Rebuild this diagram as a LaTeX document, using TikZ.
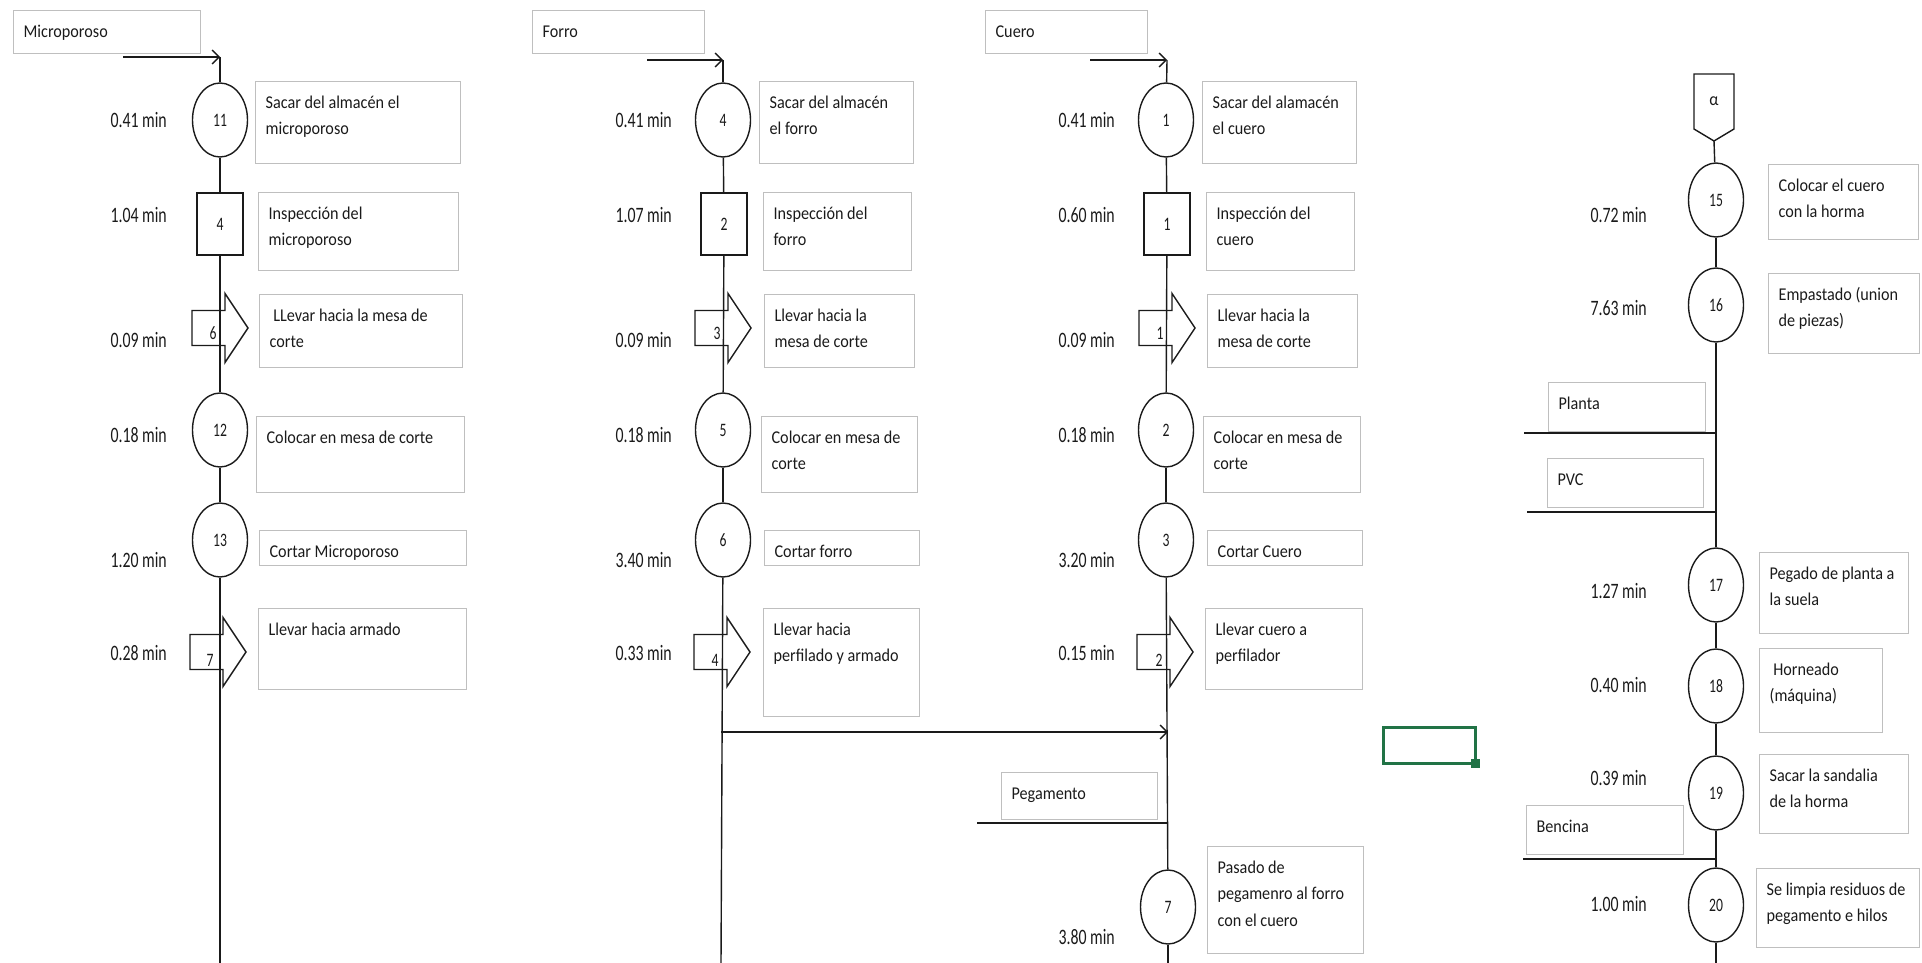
\documentclass[tikz,border=0pt]{standalone}
\usepackage{fontspec}
\setmainfont{Carlito}
\newfontfamily\boxfont[FakeStretch=0.9]{Carlito}
\newfontfamily\numfont[FakeStretch=0.72]{Carlito}
\usetikzlibrary{arrows.meta,shapes.geometric}
\definecolor{ink}{HTML}{1A1A1A}
\definecolor{boxgray}{HTML}{BFBFBF}
\definecolor{excel}{HTML}{217346}
\tikzset{
  desc/.style={draw=boxgray,line width=1.2pt,anchor=north west,inner xsep=10pt,inner ysep=8pt,text=ink,font=\boxfont\fontsize{18}{26.5}\selectfont},
  op/.style={ellipse,draw=ink,line width=1.4pt,fill=white,minimum width=55pt,minimum height=74pt,inner sep=0pt,text=ink,font=\numfont\fontsize{19}{22}\selectfont},
  insp/.style={op,rectangle,minimum width=46pt,minimum height=62pt},
  num/.style={inner sep=0pt,text=ink,font=\numfont\fontsize{19}{22}\selectfont},
  time/.style={anchor=east,inner sep=0pt,text=ink,font=\numfont\fontsize{22}{24}\selectfont},
  flow/.style={draw=ink,line width=1.4pt},
  ar/.style={flow,-{Straight Barb[length=7pt,width=14pt]}},
  transport/.pic={\draw[flow,line join=miter] (-28,-17.5) -- (5,-17.5) -- (5,-34.5) -- (28,0) -- (5,34.5) -- (5,17.5) -- (-28,17.5) -- cycle;},
}

\begin{document}
\begin{tikzpicture}[x=1pt,y=-1pt]
  \useasboundingbox (0,0) rectangle (1922,963);

  % ── text boxes: name / x / y / width / height / text ──
  \foreach \n/\x/\y/\w/\h/\txt in {
    lmic/13/10/187/43/Microporoso,
    dmo11/255/81/205/82/{Sacar del almacén el\\microporoso},
    dmi4/258/192/200/78/{Inspección del\\microporoso},
    dmt6/259/294/203/73/{\ LLevar hacia la mesa de\\corte},
    dmo12/256/416/208/76/{Colocar en mesa de corte},
    dmo13/259/530/207/34/{Cortar Microporoso},
    dmt7/258/608/208/81/{Llevar hacia armado},
    lfor/532/10/172/43/Forro,
    dfo4/759/81/154/82/{Sacar del almacén\\el forro},
    dfi2/763/192/148/78/{Inspección del\\forro},
    dft3/764/294/150/73/{Llevar hacia la\\mesa de corte},
    dfo5/761/416/156/76/{Colocar en mesa de\\corte},
    dfo6/764/530/155/34/{Cortar forro},
    dft4/763/608/156/108/{Llevar hacia\\perfilado y armado},
    lcue/985/10/162/43/Cuero,
    dco1/1202/81/154/82/{Sacar del alamacén\\el cuero},
    dci1/1206/192/148/78/{Inspección del\\cuero},
    dct1/1207/294/150/73/{Llevar hacia la\\mesa de corte},
    dco2/1203/416/157/76/{Colocar en mesa de\\corte},
    dco3/1207/530/155/34/{Cortar Cuero},
    dct2/1205/608/157/81/{Llevar cuero a\\perfilador},
    lpeg/1001/772/156/47/Pegamento,
    dco7/1207/846/156/107/{Pasado de\\pegamenro al forro\\con el cuero},
    dao15/1768/164/150/75/{Colocar el cuero\\con la horma},
    dao16/1768/273/151/80/{Empastado (union\\de piezas)},
    lpla/1548/382/157/49/Planta,
    lpvc/1547/458/156/49/PVC,
    dao17/1759/552/149/81/{Pegado de planta a\\la suela},
    dao18/1759/648/123/84/{\ Horneado\\(máquina)},
    dao19/1759/754/149/79/{Sacar la sandalia\\de la horma},
    lben/1526/805/157/49/Bencina,
    dao20/1756/868/163/79/{Se limpia residuos de\\pegamento e hilos}}
    \node[desc] (\n) at (\x,\y) {\parbox[t][\dimexpr\h pt-16pt\relax][t]{\dimexpr\w pt-20pt\relax}{\begin{tabular}[t]{@{}l@{}}\txt\end{tabular}}};

  % ── microporoso ──
  \coordinate (m0) at (123,57);
  \coordinate (mtop) at (220,57);
  \coordinate (mbot) at (220,963);
  \foreach \k/\y in {11/120,12/430,13/540} \node[op] (mo\k) at (220,\y) {\k};
  \node[insp] (mi4) at (220,224) {4};
  \pic at (220,328) {transport}; \node[num] (mt6) at (213,333) {6};
  \pic at (218,652) {transport}; \node[num] (mt7) at (210,660) {7};
  \foreach \y/\tm [count=\k] in {120/0.41,215/1.04,340/0.09,435/0.18,560/1.20,653/0.28}
    \node[time] (mtime\k) at (167,\y) {\tm{} min};
  \draw[ar] (m0) -- (mtop);
  \foreach \a/\b in {mtop/mo11,mo11/mi4,mi4/mo12,mo12/mo13,mo13/mbot} \draw[flow] (\a) -- (\b);

  % ── forro ──
  \coordinate (f0) at (647,60);
  \coordinate (ftop) at (723,60);
  \coordinate (fbot) at (721,963);
  \coordinate (fj) at (721,732);
  \foreach \k/\y in {4/120,5/430,6/540} \node[op] (fo\k) at (723,\y) {\k};
  \node[insp] (fi2) at (724,224) {2};
  \pic at (723,328) {transport}; \node[num] (ft3) at (717,333) {3};
  \pic at (722,652) {transport}; \node[num] (ft4) at (715,660) {4};
  \foreach \y/\tm [count=\k] in {120/0.41,215/1.07,340/0.09,435/0.18,560/3.40,653/0.33}
    \node[time] (ftime\k) at (672,\y) {\tm{} min};
  \draw[ar] (f0) -- (ftop);
  \foreach \a/\b in {ftop/fo4,fo4/fi2,fi2/fo5,fo5/fo6,fo6/fbot} \draw[flow] (\a) -- (\b);

  % ── cuero ──
  \coordinate (c0) at (1090,60);
  \coordinate (ctop) at (1167,60);
  \coordinate (cbot) at (1168,963);
  \coordinate (cj) at (1168,732);
  \coordinate (cp0) at (977,823);
  \coordinate (cp1) at (1168,823);
  \foreach \k/\y in {1/120,2/430,3/540} \node[op] (co\k) at (1166,\y) {\k};
  \node[op] (co7) at (1168,907) {7};
  \node[insp] (ci1) at (1167,224) {1};
  \pic at (1167,328) {transport}; \node[num] (ct1) at (1160,333) {1};
  \pic at (1165,652) {transport}; \node[num] (ct2) at (1159,660) {2};
  \foreach \y/\tm [count=\k] in {120/0.41,215/0.60,340/0.09,435/0.18,560/3.20,653/0.15,937/3.80}
    \node[time] (ctime\k) at (1115,\y) {\tm{} min};
  \draw[ar] (c0) -- (ctop);
  \foreach \a/\b in {ctop/co1,co1/ci1,ci1/co2,co2/co3,co3/co7,co7/cbot} \draw[flow] (\a) -- (\b);
  \draw[ar] (fj) -- (cj);
  \draw[flow] (cp0) -- (cp1);

  % ── armado ──
  \node[num,font=\boxfont\fontsize{18}{20}\selectfont] (alpha) at (1714,101) {α};
  \draw[flow,line join=miter] (1694,74) -- (1734,74) -- (1734,129) -- (1714,141) -- (1694,129) -- cycle;
  \coordinate (atop) at (1714,141);
  \coordinate (abot) at (1716,963);
  \foreach \k/\y in {15/200,16/305,17/585,18/686,19/793,20/905} \node[op] (ao\k) at (1716,\y) {\k};
  \foreach \y/\tm [count=\k] in {215/0.72,308/7.63,591/1.27,685/0.40,778/0.39,904/1.00}
    \node[time] (atime\k) at (1647,\y) {\tm{} min};
  \foreach \a/\b in {atop/ao15,ao15/ao16,ao16/ao17,ao17/ao18,ao18/ao19,ao19/ao20,ao20/abot} \draw[flow] (\a) -- (\b);
  \coordinate (pl0) at (1524,433); \coordinate (pl1) at (1716,433);
  \coordinate (pv0) at (1527,512); \coordinate (pv1) at (1716,512);
  \coordinate (bn0) at (1523,859); \coordinate (bn1) at (1716,859);
  \foreach \a/\b in {pl0/pl1,pv0/pv1,bn0/bn1} \draw[flow] (\a) -- (\b);

  % selected cell
  \draw[excel,line width=3pt] (1383,727) rectangle (1475,763);
  \fill[excel] (1471,759) rectangle (1480,768);
\end{tikzpicture}
\end{document}
